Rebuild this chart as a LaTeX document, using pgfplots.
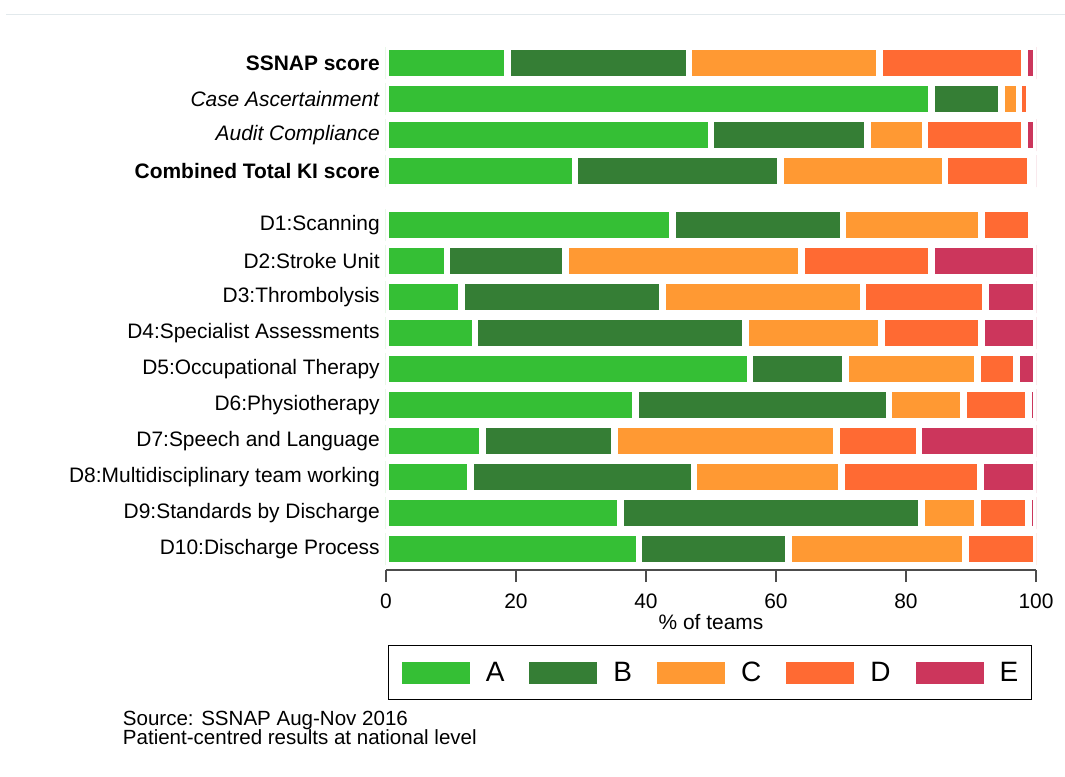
\documentclass[border=0pt]{standalone}
\usepackage{fontspec}
\setmainfont{Liberation Sans}
\usepackage{pgfplots}
\pgfplotsset{compat=1.18}
\usepackage{pgfplotstable}
\definecolor{cA}{RGB}{53,191,53}
\definecolor{cB}{RGB}{53,126,53}
\definecolor{cC}{RGB}{255,153,51}
\definecolor{cD}{RGB}{255,106,51}
\definecolor{cE}{RGB}{204,54,92}
\definecolor{topline}{RGB}{226,233,236}
\pgfplotstableread{
y A B C D E
14.5 18.7 27.9 29.3 22.3 1.8
13.5 83.9 10.8 2.7 1.6 0.0
12.5 50.0 24.1 8.8 15.3 1.8
11.5 29.1 31.6 25.3 13.1 0.9
10 44.1 26.2 21.3 7.7 0.0
9 9.4 18.2 36.3 20.0 16.1
8 11.6 30.9 30.9 18.8 7.8
7 13.7 41.6 20.9 15.4 8.4
6 56.0 14.7 20.3 6.0 3.0
5 38.4 39.0 11.4 10.0 1.2
4 14.8 20.4 34.1 12.7 18.0
3 13.0 34.4 22.7 21.4 8.5
2 36.1 46.3 8.6 7.8 1.2
1 38.9 23.0 27.3 10.8 0.0
}\datatable
\begin{document}
\begin{tikzpicture}
\useasboundingbox (0,0) rectangle (798.75pt,-582pt);
\draw[topline, line width=1pt] (4.5pt,-10.7pt) -- (798.75pt,-10.7pt);
\begin{axis}[
  at={(289.5pt,-427.5pt)}, anchor=south west,
  scale only axis, width=487.5pt, height=396.4pt,
  xmin=0, xmax=100, ymin=0.417, ymax=15.1,
  xbar stacked, bar width=0.89,
  axis x line*=bottom, axis y line*=left,
  y axis line style={draw=none},
  x axis line style={black!70, line width=1.2pt},
  tick align=outside, major tick length=9pt,
  xtick={0,20,40,60,80,100},
  x tick style={black!70, line width=1.2pt},
  ytick style={draw=none},
  ytick={1,2,3,4,5,6,7,8,9,10,11.5,12.5,13.5,14.5},
  yticklabels={D10:Discharge Process, D9:Standards by Discharge, D8:Multidisciplinary team working, D7:Speech and Language, D6:Physiotherapy, D5:Occupational Therapy, D4:Specialist Assessments, D3:Thrombolysis, D2:Stroke Unit, D1:Scanning, \textbf{Combined Total KI score}, \textit{Audit Compliance}, \textit{Case Ascertainment}, \textbf{SSNAP score}},
  tick label style={font=\fontsize{15.7}{17}\selectfont},
  /pgf/number format/assume math mode=true,
  yticklabel style={inner sep=0pt, xshift=4.5pt},
  xticklabel style={inner sep=0pt, yshift=-9pt},
  xlabel={\% of teams},
  xlabel style={font=\fontsize{15.7}{17}\selectfont, inner sep=0pt, yshift=-4pt},
  legend columns=5,
  legend style={at={(0.4985,-0.142)}, anchor=north, draw=black, line width=0.8pt,
    font=\fontsize{21}{24}\selectfont, inner xsep=10pt, inner ysep=12pt,
    nodes={inner sep=0pt},
    /tikz/every odd column/.style={column sep=12pt},
    /tikz/every even column/.style={column sep=18.75pt}},
  legend image code/.code={\fill[#1, draw=none] (0pt,-8.25pt) rectangle (51pt,8.25pt);},
  every axis plot/.append style={draw=white, line width=5pt},
]
\addplot[fill=cA] table[x=A, y=y] {\datatable};
\addplot[fill=cB] table[x=B, y=y] {\datatable};
\addplot[fill=cC] table[x=C, y=y] {\datatable};
\addplot[fill=cD] table[x=D, y=y] {\datatable};
\addplot[fill=cE] table[x=E, y=y] {\datatable};
\legend{A,B,C,D,E}
\end{axis}
\node[anchor=base west, font=\fontsize{15.4}{17}\selectfont, inner sep=0pt] at (92pt,-543.8pt) {Source: SSNAP Aug-Nov 2016};
\node[anchor=base west, font=\fontsize{15.4}{17}\selectfont, inner sep=0pt] at (92pt,-558.2pt) {Patient-centred results at national level};
\end{tikzpicture}
\end{document}
